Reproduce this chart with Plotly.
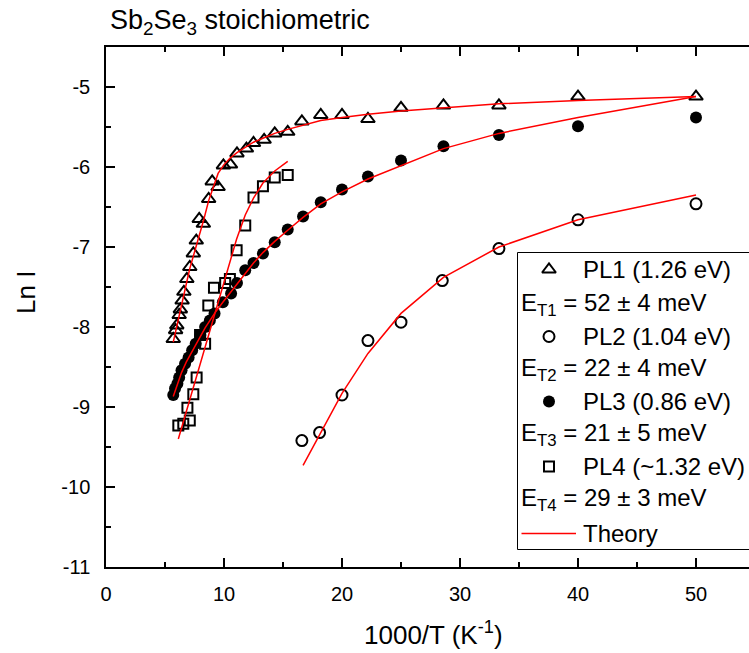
import plotly.graph_objects as go

# ---------------- data ----------------
pl1_x = [5.7, 5.9, 6.0, 6.2, 6.3, 6.45, 6.6, 6.85, 7.1, 7.4, 7.65, 7.9, 8.25, 8.7, 9.0, 9.5,
         9.95, 10.55, 11.1, 11.9, 12.5, 13.4, 14.3, 15.4, 16.6, 18.2, 20.0, 22.2, 25.0, 28.6,
         33.3, 40.0, 50.0]
pl1_y = [-8.15, -8.04, -7.98, -7.85, -7.78, -7.67, -7.56, -7.40, -7.25, -7.08, -6.92, -6.65,
         -6.71, -6.40, -6.18, -6.25, -5.98, -5.97, -5.83, -5.77, -5.70, -5.66, -5.58, -5.56,
         -5.43, -5.35, -5.35, -5.40, -5.26, -5.23, -5.23, -5.12, -5.12]

pl2_x = [16.6, 18.1, 20.0, 22.2, 25.0, 28.5, 33.3, 40.0, 50.0]
pl2_y = [-9.42, -9.32, -8.85, -8.17, -7.94, -7.42, -7.02, -6.66, -6.46]

pl3_x = [5.7, 5.85, 6.05, 6.2, 6.4, 6.7, 7.0, 7.3, 7.6, 8.0, 8.4, 8.8, 9.2, 9.9, 10.6, 11.1,
         11.8, 12.5, 13.3, 14.3, 15.4, 16.7, 18.2, 20.0, 22.2, 25.0, 28.6, 33.3, 40.0, 50.0]
pl3_y = [-8.85, -8.77, -8.71, -8.63, -8.54, -8.46, -8.38, -8.29, -8.21, -8.10, -8.00, -7.92,
         -7.83, -7.69, -7.58, -7.45, -7.29, -7.20, -7.08, -6.94, -6.78, -6.62, -6.44, -6.28,
         -6.12, -5.92, -5.74, -5.60, -5.49, -5.38]

pl4_x = [6.13, 6.55, 6.9, 7.1, 7.4, 7.68, 7.97, 8.4, 8.67, 9.15, 10.1, 10.5, 11.07, 11.8,
         12.5, 13.3, 14.3, 15.4]
pl4_y = [-9.23, -9.21, -9.01, -9.17, -8.84, -8.63, -8.10, -8.21, -7.73, -7.51, -7.45, -7.40,
         -7.04, -6.73, -6.38, -6.24, -6.13, -6.10]

th1_x = [5.7, 6.1, 6.5, 6.9, 7.1, 7.4, 7.7, 8.0, 8.3, 8.7, 9.1, 9.5, 10.0, 10.5, 11.1, 11.8,
         12.5, 13.3, 14.3, 15.4, 16.7, 18.2, 20.0, 22.2, 25.0, 28.6, 33.3, 40.0, 50.0]
th1_y = [-8.19, -7.94, -7.67, -7.40, -7.27, -7.12, -6.97, -6.82, -6.65, -6.42, -6.24, -6.08,
         -5.97, -5.89, -5.82, -5.75, -5.69, -5.64, -5.58, -5.53, -5.48, -5.42, -5.38, -5.34,
         -5.30, -5.26, -5.21, -5.17, -5.12]

th2_x = [16.7, 18.2, 20.0, 22.2, 25.0, 28.6, 33.3, 40.0, 50.0]
th2_y = [-9.73, -9.32, -8.83, -8.33, -7.83, -7.38, -7.00, -6.66, -6.35]

th3_x = [5.7, 6.0, 6.4, 6.8, 7.3, 7.7, 8.0, 8.4, 8.8, 9.2, 9.9, 10.6, 11.1, 11.8, 12.5, 13.3,
         14.3, 15.4, 16.7, 18.2, 20.0, 22.2, 25.0, 28.6, 33.3, 40.0, 50.0]
th3_y = [-8.87, -8.73, -8.57, -8.44, -8.30, -8.19, -8.11, -8.01, -7.92, -7.83, -7.69, -7.56,
         -7.46, -7.33, -7.20, -7.07, -6.93, -6.79, -6.63, -6.46, -6.31, -6.15, -5.98, -5.77,
         -5.58, -5.38, -5.12]

th4_x = [6.13, 6.55, 6.9, 7.1, 7.4, 7.68, 7.97, 8.4, 8.67, 9.15, 10.1, 10.5, 11.07, 11.8,
         12.5, 13.3, 14.3, 15.4]
th4_y = [-9.40, -9.19, -9.01, -8.91, -8.76, -8.62, -8.47, -8.25, -8.12, -7.87, -7.39, -7.19,
         -6.90, -6.60, -6.39, -6.20, -6.05, -5.93]

x_tickvals = [0, 10, 20, 30, 40, 50]
x_ticktext = ["0", "10", "20", "30", "40", "50"]
y_tickvals = [-11, -10, -9, -8, -7, -6, -5]
y_ticktext = ["-11", "-10", "-9", "-8", "-7", "-6", "-5"]

legend_names = ["PL1 (1.26 eV)", "PL2 (1.04 eV)", "PL3 (0.86 eV)", "PL4 (~1.32 eV)"]
legend_energies = ["E<sub>T1</sub> = 52 ± 4 meV", "E<sub>T2</sub> = 22 ± 4 meV",
                   "E<sub>T3</sub> = 21 ± 5 meV", "E<sub>T4</sub> = 29 ± 3 meV"]
theory_name = "Theory"
title_text = "Sb<sub>2</sub>Se<sub>3</sub> stoichiometric"
x_title = "1000/T (K<sup>-1</sup>)"
y_title = "Ln I"

# ---------------- layout geometry ----------------
W, H = 749, 653
ML, MR, MT, MB = 106, 0, 47, 86
PW = W - ML - MR
PH = H - MT - MB
FONT = "Liberation Sans, Arial, sans-serif"


def fx(px):
    return (px - ML) / PW


def fy(py):
    return (H - MB - py) / PH


sym_style = [
    dict(symbol="triangle-up-open", size=12, color="black", line=dict(width=2, color="black")),
    dict(symbol="circle-open", size=11, color="black", line=dict(width=2, color="black")),
    dict(symbol="circle", size=12, color="black", line=dict(width=0)),
    dict(symbol="square-open", size=10, color="black", line=dict(width=2, color="black")),
]

fig = go.Figure()
series = [(pl1_x, pl1_y), (pl2_x, pl2_y), (pl3_x, pl3_y), (pl4_x, pl4_y)]
for (xs, ys), st, nm in zip(series, sym_style, legend_names):
    fig.add_trace(go.Scatter(x=xs, y=ys, mode="markers", marker=st, name=nm,
                             showlegend=False, cliponaxis=False))

for xs, ys in [(th1_x, th1_y), (th2_x, th2_y), (th3_x, th3_y), (th4_x, th4_y)]:
    fig.add_trace(go.Scatter(x=xs, y=ys, mode="lines", line=dict(color="#ff0000", width=1.5),
                             name=theory_name, showlegend=False))

# ---------------- hand-made legend (overlay axes in plot fractions) ----------------
leg_sym_px = 549
leg_rows_py = [269.5, 336.5, 401.5, 466.5]
leg_E_py = [301.5, 366.5, 431.5, 496.5]
for st, py in zip(sym_style, leg_rows_py):
    fig.add_trace(go.Scatter(x=[fx(leg_sym_px)], y=[fy(py)], mode="markers", marker=st,
                             xaxis="x2", yaxis="y2", showlegend=False, cliponaxis=False,
                             hoverinfo="skip"))

LEG_FS = 24
annotations = []
for nm, py in zip(legend_names, leg_rows_py):
    annotations.append(dict(x=fx(581), y=fy(py), xref="paper", yref="paper", text=nm,
                            showarrow=False, xanchor="left", yanchor="middle",
                            font=dict(family=FONT, size=LEG_FS, color="black")))
for nm, py in zip(legend_energies, leg_E_py):
    annotations.append(dict(x=fx(519), y=fy(py + 3), xref="paper", yref="paper", text=nm,
                            showarrow=False, xanchor="left", yanchor="middle",
                            font=dict(family=FONT, size=LEG_FS, color="black")))
annotations.append(dict(x=fx(581), y=fy(533), xref="paper", yref="paper", text=theory_name,
                        showarrow=False, xanchor="left", yanchor="middle",
                        font=dict(family=FONT, size=LEG_FS, color="black")))
# title & axis titles
annotations.append(dict(x=fx(108), y=fy(22), xref="paper", yref="paper", text=title_text,
                        showarrow=False, xanchor="left", yanchor="middle",
                        font=dict(family=FONT, size=27, color="black")))
annotations.append(dict(x=fx(433), y=fy(633), xref="paper", yref="paper", text=x_title,
                        showarrow=False, xanchor="center", yanchor="middle",
                        font=dict(family=FONT, size=26, color="black")))
annotations.append(dict(x=fx(26), y=fy(293), xref="paper", yref="paper", text=y_title,
                        showarrow=False, xanchor="center", yanchor="middle", textangle=-90,
                        font=dict(family=FONT, size=26, color="black")))

shapes = [
    dict(type="rect", xref="paper", yref="paper", x0=fx(517.5), x1=1.3, y0=fy(549.5),
         y1=fy(252.5), line=dict(color="black", width=1), fillcolor="rgba(0,0,0,0)",
         layer="above"),
    dict(type="line", xref="paper", yref="paper", x0=fx(521.5), x1=fx(576), y0=fy(533.5),
         y1=fy(533.5), line=dict(color="#ff0000", width=1.5), layer="above"),
]

tickfont = dict(family=FONT, size=20, color="black")
fig.update_layout(
    width=W, height=H,
    margin=dict(l=ML, r=MR, t=MT, b=MB, pad=0, autoexpand=False),
    paper_bgcolor="white", plot_bgcolor="white",
    showlegend=False,
    font=dict(family=FONT, color="black"),
    annotations=annotations,
    shapes=shapes,
    xaxis=dict(range=[0, PW / 11.8], showgrid=False, zeroline=False, showline=True,
               linecolor="black", linewidth=1.5, mirror="ticks", ticks="inside", ticklen=9,
               tickwidth=1.5, tickcolor="black", tickmode="array", tickvals=x_tickvals,
               ticktext=x_ticktext, tickfont=tickfont, ticklabelstandoff=8,
               minor=dict(ticks="inside", ticklen=5, tickwidth=1.5, tickcolor="black",
                          tick0=0, dtick=5, showgrid=False)),
    yaxis=dict(range=[-11, -4.5], showgrid=False, zeroline=False, showline=True,
               linecolor="black", linewidth=1.5, mirror=False, ticks="inside", ticklen=9,
               tickwidth=1.5, tickcolor="black", tickmode="array", tickvals=y_tickvals,
               ticktext=y_ticktext, tickfont=tickfont, ticklabelstandoff=10,
               minor=dict(ticks="inside", ticklen=5, tickwidth=1.5, tickcolor="black",
                          tick0=-11, dtick=0.5, showgrid=False)),
    xaxis2=dict(overlaying="x", anchor="y2", range=[0, 1], visible=False, fixedrange=True),
    yaxis2=dict(overlaying="y", anchor="x2", range=[0, 1], visible=False, fixedrange=True),
)

fig.write_html("out.html", config={"displayModeBar": False})
